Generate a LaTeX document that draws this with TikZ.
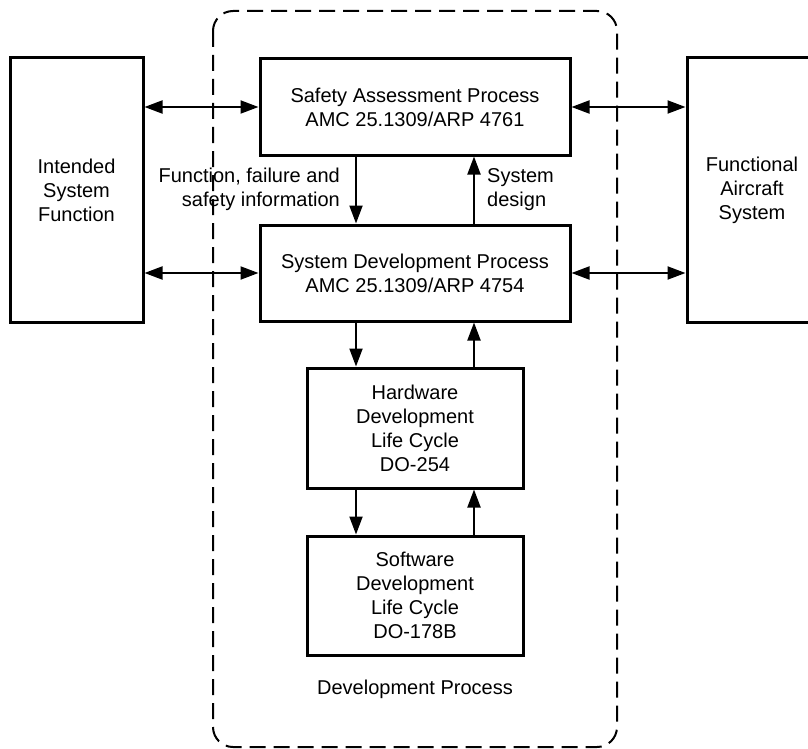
\documentclass[tikz,border=0pt]{standalone}
\usepackage{fontspec}
\setmainfont{Liberation Sans}
\usetikzlibrary{arrows.meta}
\begin{document}
\begin{tikzpicture}[x=1pt,y=-1pt,
  every node/.style={font=\fontsize{20pt}{24pt}\selectfont, align=center, inner sep=0pt},
  box/.style={draw, line width=3pt},
  link/.style={line width=2pt, -{Triangle[length=18pt,width=13pt]}},
  dlink/.style={line width=2pt, {Triangle[length=18pt,width=13pt]}-{Triangle[length=18pt,width=13pt]}}]
\useasboundingbox (0,0) rectangle (808,749);
\clip (0,0) rectangle (808,749);
\draw[line width=2pt, dash pattern=on 16pt off 8pt, rounded corners=20pt] (213,11) rectangle (617,747);
\node[box, minimum width=133pt, minimum height=264pt] (left) at (76.5,190) {Intended\\System\\Function};
\node[box, minimum width=130pt, minimum height=264pt] (right) at (752,190) {Functional\\Aircraft\\System};
\node[box, minimum width=310pt, minimum height=96pt] (safety) at (415,107) {Safety Assessment Process\\AMC 25.1309/ARP 4761};
\node[box, minimum width=310pt, minimum height=96pt] (sd) at (415,273) {System Development Process\\AMC 25.1309/ARP 4754};
\node[box, minimum width=216pt, minimum height=120pt] (hw) at (415,428) {Hardware\\Development\\Life Cycle\\DO-254};
\node[box, minimum width=216pt, minimum height=119pt] (sw) at (415,595.5) {Software\\Development\\Life Cycle\\DO-178B};
\node (dp) at (415,689) {Development Process};
\node[anchor=east, align=right] (ffs) at (340,189.5) {Function, failure and\\safety information};
\node[anchor=west, align=left] (sysd) at (487,189.5) {System\\design};
% horizontal links
\draw[dlink] (left.east |- safety.west) -- (safety.west);
\draw[dlink] (safety.east) -- (right.west |- safety.east);
\draw[dlink] (left.east |- sd.west) -- (sd.west);
\draw[dlink] (sd.east) -- (right.west |- sd.east);
% vertical links
\draw[link] ([xshift=-59pt]safety.south) -- ([xshift=-59pt]sd.north);
\draw[link] ([xshift=59pt]sd.north) -- ([xshift=59pt]safety.south);
\draw[link] ([xshift=-59pt]sd.south) -- ([xshift=-59pt]hw.north);
\draw[link] ([xshift=59pt]hw.north) -- ([xshift=59pt]sd.south);
\draw[link] ([xshift=-59pt]hw.south) -- ([xshift=-59pt]sw.north);
\draw[link] ([xshift=59pt]sw.north) -- ([xshift=59pt]hw.south);
\end{tikzpicture}
\end{document}
